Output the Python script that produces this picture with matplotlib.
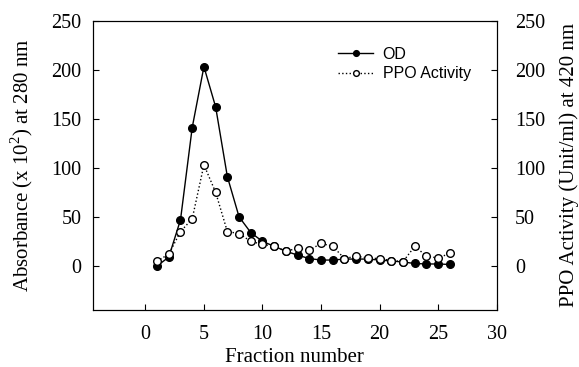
import matplotlib
matplotlib.use('Agg')
import matplotlib.pyplot as plt

plt.rcParams['font.family'] = 'Liberation Serif'
plt.rcParams['mathtext.fontset'] = 'custom'
plt.rcParams['mathtext.rm'] = 'Liberation Serif'

fractions = list(range(1, 27))
od = [0, 9, 47, 141, 203, 162, 91, 50, 34, 25, 20, 15, 11, 7.5, 6, 6,
      7, 7, 7, 6, 5, 4, 2.5, 2, 2, 1.5]
ppo = [5, 12, 35, 48, 103, 75, 35, 33, 25, 22, 20, 15, 18, 16, 23, 20,
       7.5, 10, 8, 7.5, 5.5, 4.5, 20, 10, 8, 13]

x_ticks = [0, 5, 10, 15, 20, 25, 30]
y_ticks = [0, 50, 100, 150, 200, 250]

fig = plt.figure(figsize=(5.79, 3.67), dpi=100)
ax = fig.add_axes([0.16, 0.155, 0.698, 0.789])
ax2 = ax.twinx()

l1, = ax.plot(fractions, od, color='black', linewidth=1.0, marker='o',
              markersize=5.5, markerfacecolor='black', label='OD', zorder=2)
l2, = ax2.plot(fractions, ppo, color='black', linewidth=1.0, linestyle=':',
               marker='o', markersize=5.5, markerfacecolor='white',
               markeredgewidth=1.0, label='PPO Activity', zorder=3)

for a in (ax, ax2):
    a.set_ylim(-45, 250)
    a.set_yticks(y_ticks)
    a.tick_params(direction='in', labelsize=14.5, length=4)
ax.tick_params(axis='y', pad=8)
ax.tick_params(axis='x', pad=10.5)
ax2.tick_params(axis='y', pad=13)
ax.set_xlim(-4.5, 30)
ax.set_xticks(x_ticks)

ax.set_xlabel('Fraction number', fontsize=15, labelpad=3)
ax.set_ylabel(r'Absorbance (x 10$^\mathregular{2}$) at 280 nm', fontsize=15, labelpad=12)
ax2.set_ylabel('PPO Activity (Unit/ml) at 420 nm', fontsize=15, labelpad=10)

leg = ax2.legend(handles=[l1, l2], loc='upper left', bbox_to_anchor=(0.607, 0.91),
                 frameon=False, markerscale=0.75, handlelength=2.2,
                 handletextpad=0.6, labelspacing=0.3, borderpad=0, borderaxespad=0,
                 prop={'family': 'Liberation Sans', 'size': 11.5})

plt.savefig('out.png', dpi=100)
plt.close()
